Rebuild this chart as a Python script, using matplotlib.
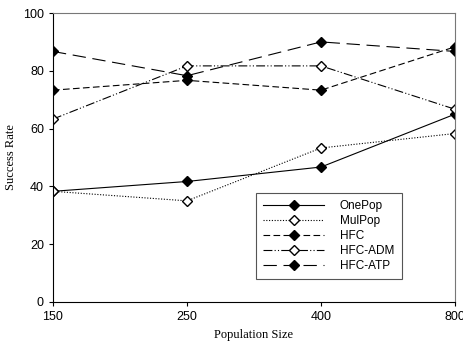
import matplotlib
matplotlib.use('Agg')
import matplotlib.pyplot as plt

pop_sizes = ['150', '250', '400', '800']
one_pop = [38.3, 41.7, 46.7, 65.0]
mul_pop = [38.3, 35.0, 53.3, 58.3]
hfc = [73.3, 76.7, 73.3, 88.3]
hfc_adm = [63.3, 81.7, 81.7, 66.7]
hfc_atp = [86.7, 78.3, 90.0, 86.7]

x = range(len(pop_sizes))

fig = plt.figure(figsize=(4.64, 3.44), dpi=100)
ax = fig.add_axes([53/464, 1 - 302/344, 402/464, 289/344])

lw = 0.8
ax.plot(x, one_pop, color='black', linestyle='-', lw=lw, marker='D', ms=5,
        mfc='black', mec='black', label='OnePop')
ax.plot(x, mul_pop, color='black', linestyle=(0, (1, 1.5)), lw=lw, marker='D', ms=5,
        mfc='white', mec='black', label='MulPop')
ax.plot(x, hfc, color='black', linestyle=(0, (6, 3)), lw=lw, marker='D', ms=5,
        mfc='black', mec='black', label='HFC')
ax.plot(x, hfc_adm, color='black', linestyle=(0, (8, 2, 1, 2, 1, 2)), lw=lw, marker='D', ms=5,
        mfc='white', mec='black', label='HFC-ADM')
ax.plot(x, hfc_atp, color='black', linestyle=(0, (12, 6)), lw=lw, marker='D', ms=5,
        mfc='black', mec='black', label='HFC-ATP')

ax.set_xlim(0, 3)
ax.set_ylim(0, 100)
ax.set_xticks(list(x))
ax.set_xticklabels(pop_sizes, family='Liberation Sans', fontsize=9)
ax.set_yticks(range(0, 101, 20))
ax.set_yticklabels([str(v) for v in range(0, 101, 20)], family='Liberation Sans', fontsize=9)
ax.tick_params(direction='out', length=3, width=0.8)

for s in ['left', 'bottom']:
    ax.spines[s].set_color('black')
    ax.spines[s].set_linewidth(0.8)
for s in ['top', 'right']:
    ax.spines[s].set_color('#777777')
    ax.spines[s].set_linewidth(0.8)

ax.set_xlabel('Population Size', family='Liberation Serif', fontsize=9, labelpad=4)
ax.set_ylabel('Success Rate', family='Liberation Serif', fontsize=9, labelpad=4)

leg = ax.legend(loc='lower left', bbox_to_anchor=(203/402, 23/289, 146/402, 85/289),
                mode='expand', handlelength=5.2, fancybox=False, framealpha=1,
                edgecolor='#555555', prop={'family': 'Liberation Sans', 'size': 8.5},
                labelspacing=0.25, borderpad=0.6, handletextpad=1.3, borderaxespad=0)
leg.get_frame().set_linewidth(0.8)

fig.savefig('out.png', dpi=100)
